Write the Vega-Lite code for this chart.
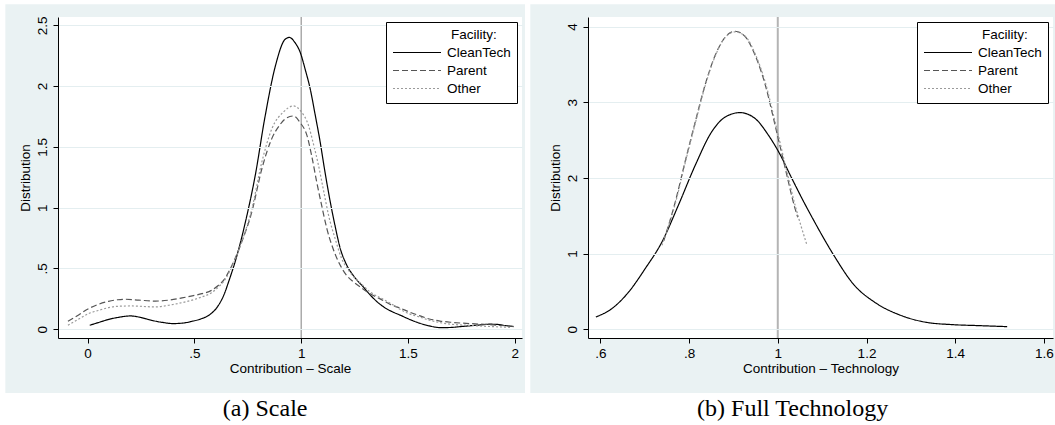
{
  "$schema": "https://vega.github.io/schema/vega-lite/v6.json",
  "background": "white",
  "padding": {"left": 5, "top": 4, "right": 0, "bottom": 0},
  "columns": 2,
  "align": "none",
  "bounds": "full",
  "spacing": 5,
  "resolve": {
    "scale": {"x": "independent", "y": "independent", "color": "independent", "strokeDash": "independent"},
    "legend": {"color": "independent", "strokeDash": "independent"}
  },
  "datasets": {
    "scale": [
      {"x": 0.01, "y": 0.033, "f": "CleanTech"}, {"x": 0.05, "y": 0.055, "f": "CleanTech"}, {"x": 0.10, "y": 0.082, "f": "CleanTech"},
      {"x": 0.15, "y": 0.100, "f": "CleanTech"}, {"x": 0.20, "y": 0.110, "f": "CleanTech"}, {"x": 0.25, "y": 0.097, "f": "CleanTech"},
      {"x": 0.30, "y": 0.074, "f": "CleanTech"}, {"x": 0.35, "y": 0.057, "f": "CleanTech"}, {"x": 0.40, "y": 0.047, "f": "CleanTech"},
      {"x": 0.45, "y": 0.052, "f": "CleanTech"}, {"x": 0.49, "y": 0.066, "f": "CleanTech"}, {"x": 0.53, "y": 0.085, "f": "CleanTech"},
      {"x": 0.57, "y": 0.118, "f": "CleanTech"}, {"x": 0.61, "y": 0.19, "f": "CleanTech"}, {"x": 0.64, "y": 0.29, "f": "CleanTech"},
      {"x": 0.66, "y": 0.389, "f": "CleanTech"}, {"x": 0.70, "y": 0.61, "f": "CleanTech"}, {"x": 0.74, "y": 0.89, "f": "CleanTech"},
      {"x": 0.785, "y": 1.265, "f": "CleanTech"}, {"x": 0.83, "y": 1.74, "f": "CleanTech"}, {"x": 0.88, "y": 2.17, "f": "CleanTech"},
      {"x": 0.925, "y": 2.385, "f": "CleanTech"}, {"x": 0.945, "y": 2.40, "f": "CleanTech"}, {"x": 0.97, "y": 2.36, "f": "CleanTech"},
      {"x": 0.995, "y": 2.28, "f": "CleanTech"}, {"x": 1.02, "y": 2.13, "f": "CleanTech"}, {"x": 1.042, "y": 1.98, "f": "CleanTech"},
      {"x": 1.065, "y": 1.77, "f": "CleanTech"}, {"x": 1.089, "y": 1.54, "f": "CleanTech"}, {"x": 1.11, "y": 1.31, "f": "CleanTech"},
      {"x": 1.136, "y": 1.05, "f": "CleanTech"}, {"x": 1.16, "y": 0.84, "f": "CleanTech"}, {"x": 1.183, "y": 0.665, "f": "CleanTech"},
      {"x": 1.21, "y": 0.54, "f": "CleanTech"}, {"x": 1.245, "y": 0.44, "f": "CleanTech"}, {"x": 1.29, "y": 0.35, "f": "CleanTech"},
      {"x": 1.33, "y": 0.27, "f": "CleanTech"}, {"x": 1.37, "y": 0.205, "f": "CleanTech"}, {"x": 1.42, "y": 0.15, "f": "CleanTech"},
      {"x": 1.463, "y": 0.117, "f": "CleanTech"}, {"x": 1.51, "y": 0.08, "f": "CleanTech"}, {"x": 1.557, "y": 0.049, "f": "CleanTech"},
      {"x": 1.60, "y": 0.028, "f": "CleanTech"}, {"x": 1.65, "y": 0.014, "f": "CleanTech"}, {"x": 1.70, "y": 0.015, "f": "CleanTech"},
      {"x": 1.744, "y": 0.022, "f": "CleanTech"}, {"x": 1.79, "y": 0.029, "f": "CleanTech"}, {"x": 1.838, "y": 0.036, "f": "CleanTech"},
      {"x": 1.885, "y": 0.042, "f": "CleanTech"}, {"x": 1.92, "y": 0.04, "f": "CleanTech"}, {"x": 1.947, "y": 0.033, "f": "CleanTech"},
      {"x": 1.994, "y": 0.022, "f": "CleanTech"},
      {"x": -0.092, "y": 0.066, "f": "Parent"}, {"x": -0.05, "y": 0.11, "f": "Parent"}, {"x": 0.005, "y": 0.17, "f": "Parent"},
      {"x": 0.05, "y": 0.205, "f": "Parent"}, {"x": 0.098, "y": 0.23, "f": "Parent"}, {"x": 0.14, "y": 0.243, "f": "Parent"},
      {"x": 0.176, "y": 0.247, "f": "Parent"}, {"x": 0.24, "y": 0.24, "f": "Parent"}, {"x": 0.317, "y": 0.232, "f": "Parent"},
      {"x": 0.38, "y": 0.24, "f": "Parent"}, {"x": 0.442, "y": 0.258, "f": "Parent"}, {"x": 0.49, "y": 0.275, "f": "Parent"},
      {"x": 0.535, "y": 0.293, "f": "Parent"}, {"x": 0.58, "y": 0.32, "f": "Parent"}, {"x": 0.613, "y": 0.362, "f": "Parent"},
      {"x": 0.64, "y": 0.41, "f": "Parent"}, {"x": 0.66, "y": 0.47, "f": "Parent"}, {"x": 0.69, "y": 0.58, "f": "Parent"},
      {"x": 0.722, "y": 0.72, "f": "Parent"}, {"x": 0.769, "y": 0.965, "f": "Parent"}, {"x": 0.816, "y": 1.32, "f": "Parent"},
      {"x": 0.863, "y": 1.57, "f": "Parent"}, {"x": 0.90, "y": 1.68, "f": "Parent"}, {"x": 0.925, "y": 1.73, "f": "Parent"},
      {"x": 0.964, "y": 1.754, "f": "Parent"}, {"x": 0.995, "y": 1.70, "f": "Parent"}, {"x": 1.027, "y": 1.595, "f": "Parent"},
      {"x": 1.05, "y": 1.42, "f": "Parent"}, {"x": 1.073, "y": 1.21, "f": "Parent"}, {"x": 1.097, "y": 1.01, "f": "Parent"},
      {"x": 1.12, "y": 0.83, "f": "Parent"}, {"x": 1.15, "y": 0.66, "f": "Parent"}, {"x": 1.183, "y": 0.526, "f": "Parent"},
      {"x": 1.21, "y": 0.45, "f": "Parent"}, {"x": 1.245, "y": 0.39, "f": "Parent"}, {"x": 1.283, "y": 0.34, "f": "Parent"},
      {"x": 1.323, "y": 0.293, "f": "Parent"}, {"x": 1.37, "y": 0.25, "f": "Parent"}, {"x": 1.417, "y": 0.205, "f": "Parent"},
      {"x": 1.463, "y": 0.175, "f": "Parent"}, {"x": 1.51, "y": 0.14, "f": "Parent"}, {"x": 1.557, "y": 0.11, "f": "Parent"},
      {"x": 1.60, "y": 0.085, "f": "Parent"}, {"x": 1.65, "y": 0.068, "f": "Parent"}, {"x": 1.70, "y": 0.058, "f": "Parent"},
      {"x": 1.744, "y": 0.052, "f": "Parent"}, {"x": 1.80, "y": 0.046, "f": "Parent"}, {"x": 1.838, "y": 0.043, "f": "Parent"},
      {"x": 1.90, "y": 0.036, "f": "Parent"}, {"x": 1.963, "y": 0.028, "f": "Parent"}, {"x": 1.994, "y": 0.024, "f": "Parent"},
      {"x": -0.092, "y": 0.033, "f": "Other"}, {"x": -0.05, "y": 0.075, "f": "Other"}, {"x": 0.005, "y": 0.129, "f": "Other"},
      {"x": 0.05, "y": 0.155, "f": "Other"}, {"x": 0.098, "y": 0.178, "f": "Other"}, {"x": 0.15, "y": 0.19, "f": "Other"},
      {"x": 0.208, "y": 0.192, "f": "Other"}, {"x": 0.26, "y": 0.188, "f": "Other"}, {"x": 0.317, "y": 0.184, "f": "Other"},
      {"x": 0.38, "y": 0.198, "f": "Other"}, {"x": 0.442, "y": 0.219, "f": "Other"}, {"x": 0.49, "y": 0.24, "f": "Other"},
      {"x": 0.535, "y": 0.266, "f": "Other"}, {"x": 0.58, "y": 0.30, "f": "Other"}, {"x": 0.613, "y": 0.348, "f": "Other"},
      {"x": 0.64, "y": 0.40, "f": "Other"}, {"x": 0.66, "y": 0.458, "f": "Other"}, {"x": 0.69, "y": 0.57, "f": "Other"},
      {"x": 0.722, "y": 0.72, "f": "Other"}, {"x": 0.769, "y": 0.99, "f": "Other"}, {"x": 0.816, "y": 1.376, "f": "Other"},
      {"x": 0.863, "y": 1.65, "f": "Other"}, {"x": 0.917, "y": 1.787, "f": "Other"}, {"x": 0.964, "y": 1.837, "f": "Other"},
      {"x": 1.0, "y": 1.79, "f": "Other"}, {"x": 1.034, "y": 1.678, "f": "Other"}, {"x": 1.058, "y": 1.52, "f": "Other"},
      {"x": 1.081, "y": 1.35, "f": "Other"}, {"x": 1.105, "y": 1.14, "f": "Other"}, {"x": 1.128, "y": 0.94, "f": "Other"},
      {"x": 1.16, "y": 0.74, "f": "Other"}, {"x": 1.19, "y": 0.58, "f": "Other"}, {"x": 1.22, "y": 0.49, "f": "Other"},
      {"x": 1.254, "y": 0.417, "f": "Other"}, {"x": 1.29, "y": 0.36, "f": "Other"}, {"x": 1.323, "y": 0.307, "f": "Other"},
      {"x": 1.37, "y": 0.26, "f": "Other"}, {"x": 1.417, "y": 0.215, "f": "Other"}, {"x": 1.463, "y": 0.165, "f": "Other"},
      {"x": 1.51, "y": 0.125, "f": "Other"}, {"x": 1.557, "y": 0.10, "f": "Other"}, {"x": 1.60, "y": 0.075, "f": "Other"},
      {"x": 1.65, "y": 0.055, "f": "Other"}, {"x": 1.70, "y": 0.042, "f": "Other"}, {"x": 1.744, "y": 0.036, "f": "Other"},
      {"x": 1.80, "y": 0.03, "f": "Other"}, {"x": 1.838, "y": 0.027, "f": "Other"}, {"x": 1.90, "y": 0.022, "f": "Other"},
      {"x": 1.979, "y": 0.016, "f": "Other"}
    ],
    "tech": [
      {"x": 0.590, "y": 0.163, "f": "CleanTech"}, {"x": 0.626, "y": 0.273, "f": "CleanTech"}, {"x": 0.664, "y": 0.493, "f": "CleanTech"},
      {"x": 0.701, "y": 0.80, "f": "CleanTech"}, {"x": 0.739, "y": 1.154, "f": "CleanTech"}, {"x": 0.776, "y": 1.639, "f": "CleanTech"},
      {"x": 0.814, "y": 2.167, "f": "CleanTech"}, {"x": 0.851, "y": 2.608, "f": "CleanTech"}, {"x": 0.882, "y": 2.806, "f": "CleanTech"},
      {"x": 0.915, "y": 2.863, "f": "CleanTech"}, {"x": 0.949, "y": 2.784, "f": "CleanTech"}, {"x": 0.979, "y": 2.564, "f": "CleanTech"},
      {"x": 1.002, "y": 2.344, "f": "CleanTech"}, {"x": 1.032, "y": 1.99, "f": "CleanTech"}, {"x": 1.058, "y": 1.69, "f": "CleanTech"},
      {"x": 1.08, "y": 1.45, "f": "CleanTech"}, {"x": 1.125, "y": 0.99, "f": "CleanTech"}, {"x": 1.17, "y": 0.60, "f": "CleanTech"},
      {"x": 1.223, "y": 0.34, "f": "CleanTech"}, {"x": 1.276, "y": 0.187, "f": "CleanTech"}, {"x": 1.336, "y": 0.091, "f": "CleanTech"},
      {"x": 1.396, "y": 0.061, "f": "CleanTech"}, {"x": 1.456, "y": 0.048, "f": "CleanTech"}, {"x": 1.517, "y": 0.035, "f": "CleanTech"},
      {"x": 0.743, "y": 1.17, "f": "Parent"}, {"x": 0.769, "y": 1.683, "f": "Parent"}, {"x": 0.791, "y": 2.211, "f": "Parent"},
      {"x": 0.814, "y": 2.74, "f": "Parent"}, {"x": 0.836, "y": 3.225, "f": "Parent"}, {"x": 0.859, "y": 3.62, "f": "Parent"},
      {"x": 0.882, "y": 3.863, "f": "Parent"}, {"x": 0.904, "y": 3.938, "f": "Parent"}, {"x": 0.927, "y": 3.863, "f": "Parent"},
      {"x": 0.949, "y": 3.62, "f": "Parent"}, {"x": 0.972, "y": 3.225, "f": "Parent"}, {"x": 0.994, "y": 2.696, "f": "Parent"},
      {"x": 1.017, "y": 2.123, "f": "Parent"}, {"x": 1.039, "y": 1.595, "f": "Parent"}, {"x": 1.045, "y": 1.48, "f": "Parent"},
      {"x": 0.739, "y": 1.11, "f": "Other"}, {"x": 0.769, "y": 1.66, "f": "Other"}, {"x": 0.791, "y": 2.19, "f": "Other"},
      {"x": 0.814, "y": 2.72, "f": "Other"}, {"x": 0.836, "y": 3.21, "f": "Other"}, {"x": 0.859, "y": 3.61, "f": "Other"},
      {"x": 0.882, "y": 3.86, "f": "Other"}, {"x": 0.904, "y": 3.93, "f": "Other"}, {"x": 0.927, "y": 3.87, "f": "Other"},
      {"x": 0.949, "y": 3.64, "f": "Other"}, {"x": 0.972, "y": 3.26, "f": "Other"}, {"x": 0.994, "y": 2.74, "f": "Other"},
      {"x": 1.017, "y": 2.17, "f": "Other"}, {"x": 1.039, "y": 1.64, "f": "Other"}, {"x": 1.066, "y": 1.11, "f": "Other"}
    ]
  },
  "concat": [
    {
      "width": 464,
      "height": 321,
      "title": {"text": "(a) Scale"},
      "layer": [
        {
          "data": {"values": [{}]},
          "mark": {"type": "rect", "fill": "#EAF2F3", "strokeWidth": 0},
          "encoding": {
            "x": {"datum": -0.385, "type": "quantitative", "scale": {"domain": [-0.1385, 2.034], "nice": false, "zero": false}, "title": "Contribution – Scale"},
            "x2": {"datum": 2.048},
            "y": {"datum": 2.672, "type": "quantitative", "scale": {"domain": [-0.0715, 2.568], "nice": false, "zero": false}, "title": "Distribution"},
            "y2": {"datum": -0.524}
          }
        },
        {
          "data": {"values": [{}]},
          "mark": {"type": "rect", "fill": "white", "strokeWidth": 0},
          "encoding": {
            "x": {"datum": -0.1385, "type": "quantitative", "scale": {"domain": [-0.1385, 2.034], "nice": false, "zero": false}, "title": "Contribution – Scale"},
            "x2": {"datum": 2.034},
            "y": {"datum": 2.568, "type": "quantitative", "scale": {"domain": [-0.0715, 2.568], "nice": false, "zero": false}, "title": "Distribution"},
            "y2": {"datum": -0.0715}
          }
        },
        {
          "data": {"values": [{}]},
          "mark": {"type": "rule", "color": "#808080", "strokeWidth": 1},
          "encoding": {
            "x": {"datum": 1, "type": "quantitative", "scale": {"domain": [-0.1385, 2.034], "nice": false, "zero": false}, "title": "Contribution – Scale"}
          }
        },
        {
          "data": {"name": "scale"},
          "mark": {"type": "line", "strokeWidth": 1.2, "interpolate": "monotone"},
          "encoding": {
            "x": {"field": "x", "type": "quantitative", "scale": {"domain": [-0.1385, 2.034], "nice": false, "zero": false}, "title": "Contribution – Scale",
                  "axis": {"zindex": 1, "values": [0, 0.5, 1, 1.5, 2], "labelExpr": "replace(format(datum.value, '~g'), '0.', '.')"}},
            "y": {"field": "y", "type": "quantitative", "scale": {"domain": [-0.0715, 2.568], "nice": false, "zero": false}, "title": "Distribution",
                  "axis": {"zindex": 1, "values": [0, 0.5, 1, 1.5, 2, 2.5], "labelExpr": "replace(format(datum.value, '~g'), '0.', '.')"}},
            "color": {"field": "f", "type": "nominal", "title": "Facility:", "scale": {"domain": ["CleanTech", "Parent", "Other"], "range": ["#000000", "#555555", "#9a9a9a"]}},
            "strokeDash": {"field": "f", "type": "nominal", "title": "Facility:", "scale": {"domain": ["CleanTech", "Parent", "Other"], "range": [[1, 0], [6, 3], [2, 2]]}}
          }
        }
      ]
    },
    {
      "width": 465,
      "height": 321,
      "title": {"text": "(b) Full Technology"},
      "layer": [
        {
          "data": {"values": [{}]},
          "mark": {"type": "rect", "fill": "#EAF2F3", "strokeWidth": 0},
          "encoding": {
            "x": {"datum": 0.4423, "type": "quantitative", "scale": {"domain": [0.5723, 1.6203], "nice": false, "zero": false}, "title": "Contribution – Technology"},
            "x2": {"datum": 1.6248},
            "y": {"datum": 4.294, "type": "quantitative", "scale": {"domain": [-0.115, 4.126], "nice": false, "zero": false}, "title": "Distribution"},
            "y2": {"datum": -0.8416}
          }
        },
        {
          "data": {"values": [{}]},
          "mark": {"type": "rect", "fill": "white", "strokeWidth": 0},
          "encoding": {
            "x": {"datum": 0.5723, "type": "quantitative", "scale": {"domain": [0.5723, 1.6203], "nice": false, "zero": false}, "title": "Contribution – Technology"},
            "x2": {"datum": 1.6203},
            "y": {"datum": 4.126, "type": "quantitative", "scale": {"domain": [-0.115, 4.126], "nice": false, "zero": false}, "title": "Distribution"},
            "y2": {"datum": -0.115}
          }
        },
        {
          "data": {"values": [{}]},
          "mark": {"type": "rule", "color": "#b4b4b4", "strokeWidth": 2},
          "encoding": {
            "x": {"datum": 1, "type": "quantitative", "scale": {"domain": [0.5723, 1.6203], "nice": false, "zero": false}, "title": "Contribution – Technology"}
          }
        },
        {
          "data": {"name": "tech"},
          "mark": {"type": "line", "strokeWidth": 1.2, "interpolate": "monotone"},
          "encoding": {
            "x": {"field": "x", "type": "quantitative", "scale": {"domain": [0.5723, 1.6203], "nice": false, "zero": false}, "title": "Contribution – Technology",
                  "axis": {"zindex": 1, "values": [0.6, 0.8, 1, 1.2, 1.4, 1.6], "labelExpr": "replace(format(datum.value, '~g'), '0.', '.')"}},
            "y": {"field": "y", "type": "quantitative", "scale": {"domain": [-0.115, 4.126], "nice": false, "zero": false}, "title": "Distribution",
                  "axis": {"zindex": 1, "values": [0, 1, 2, 3, 4], "labelExpr": "replace(format(datum.value, '~g'), '0.', '.')"}},
            "color": {"field": "f", "type": "nominal", "title": "Facility:", "scale": {"domain": ["CleanTech", "Parent", "Other"], "range": ["#000000", "#555555", "#9a9a9a"]}},
            "strokeDash": {"field": "f", "type": "nominal", "title": "Facility:", "scale": {"domain": ["CleanTech", "Parent", "Other"], "range": [[1, 0], [6, 3], [2, 2]]}}
          }
        }
      ]
    }
  ],
  "config": {
    "view": {"stroke": null, "fill": null},
    "font": "Liberation Sans",
    "axis": {
      "domainColor": "#000000", "domainWidth": 1, "tickColor": "#000000", "tickWidth": 1, "tickSize": 5,
      "labelFont": "Liberation Sans", "labelFontSize": 13.5, "labelColor": "#000000",
      "titleFont": "Liberation Sans", "titleFontSize": 13.5, "titleFontWeight": "normal", "titleColor": "#000000",
      "gridColor": "#E4EEF0", "gridWidth": 1
    },
    "axisY": {"grid": true, "labelAngle": 270, "labelAlign": "center", "labelBaseline": "bottom", "labelPadding": 4, "titlePadding": 3},
    "axisX": {"grid": false, "labelPadding": 3, "titlePadding": 2},
    "legend": {
      "orient": "top-right", "offset": 5, "padding": 6, "strokeColor": "#000000", "fillColor": "white", "cornerRadius": 0,
      "symbolType": "stroke", "symbolSize": 2304, "symbolStrokeWidth": 1.2,
      "labelFont": "Liberation Sans", "labelFontSize": 13.5, "labelColor": "#000000", "labelOffset": 5,
      "titleFont": "Liberation Sans", "titleFontSize": 13.5, "titleFontWeight": "normal", "titleColor": "#000000",
      "titleAnchor": "middle", "titleAlign": "left", "titlePadding": 3, "rowPadding": 2, "clipHeight": 16, "zindex": 1
    },
    "title": {"font": "Liberation Serif", "fontSize": 24, "fontWeight": "normal", "color": "#000000", "orient": "bottom", "anchor": "middle", "frame": "bounds", "offset": 4}
  }
}
